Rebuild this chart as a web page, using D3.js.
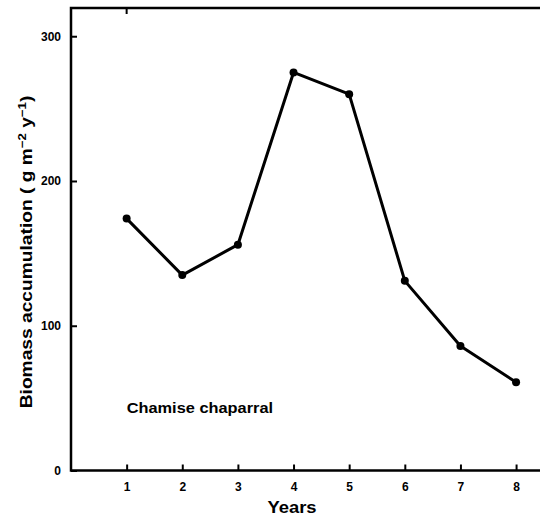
<!DOCTYPE html>
<html><head><meta charset="utf-8">
<script src="https://cdn.jsdelivr.net/npm/d3@7"></script>
<style>body{margin:0;background:#fff}svg{display:block}text{font-family:"Liberation Sans",Arial,sans-serif;font-weight:bold;fill:#000}</style>
</head><body><svg id="c" width="540" height="519"></svg>
<script>
const years = [1,2,3,4,5,6,7,8];
const biomass = [174,135,156,275,260,131,86,61];
const yTicks = [0,100,200,300];
const xTicks = [1,2,3,4,5,6,7,8];

const svg = d3.select("#c");
const L=71, R=540, T=8, B=470.5;
const x = d3.scaleLinear().domain([0,8.43]).range([L,R]);
const y = d3.scaleLinear().domain([0,319.5]).range([B,T]);

svg.append("path").attr("d",`M${R},${T}H${L}V${B}H${R}`).attr("fill","none").attr("stroke","#000").attr("stroke-width",2.5);

const xa = svg.append("g").attr("transform",`translate(0,${B})`)
  .call(d3.axisBottom(x).tickValues(xTicks).tickSize(-6).tickPadding(12).tickFormat(d3.format("d")));
const ya = svg.append("g").attr("transform",`translate(${L},0)`)
  .call(d3.axisLeft(y).tickValues(yTicks).tickSize(-6).tickPadding(8).tickFormat(d3.format("d")));
[xa,ya].forEach(a=>{a.select(".domain").remove();a.selectAll("line").attr("stroke","#000").attr("stroke-width",2);a.selectAll("text").style("font-size","12px").style("font-weight","bold").attr("font-family",null);});
ya.selectAll("text").attr("dx",-2);
svg.append("line").attr("x1",x(1)).attr("x2",x(1)).attr("y1",T).attr("y2",T+6).attr("stroke","#000").attr("stroke-width",2);

const line = d3.line().x((d,i)=>x(years[i])).y(d=>y(d));
svg.append("path").datum(biomass).attr("d",line).attr("fill","none").attr("stroke","#000").attr("stroke-width",3).attr("stroke-linejoin","round");
svg.selectAll("circle.p").data(biomass).join("circle").attr("class","p")
  .attr("cx",(d,i)=>x(years[i])).attr("cy",d=>y(d)).attr("r",4).attr("fill","#000");

svg.append("text").attr("transform",`translate(292,513) scale(1.15,1)`).attr("text-anchor","middle").style("font-size","16px").text("Years");
svg.append("text").attr("transform",`translate(${x(1)},413) scale(1.17,1)`).style("font-size","14px").text("Chamise chaparral");
const yl = svg.append("text").attr("transform",`translate(32,252) rotate(-90) scale(1.2,1)`).attr("text-anchor","middle").style("font-size","16px");
yl.append("tspan").text("Biomass accumulation ( g  m");
yl.append("tspan").attr("baseline-shift","super").style("font-size","11px").text("\u22122");
yl.append("tspan").text(" y");
yl.append("tspan").attr("baseline-shift","super").style("font-size","11px").text("\u22121");
yl.append("tspan").text(")");
</script></body></html>
